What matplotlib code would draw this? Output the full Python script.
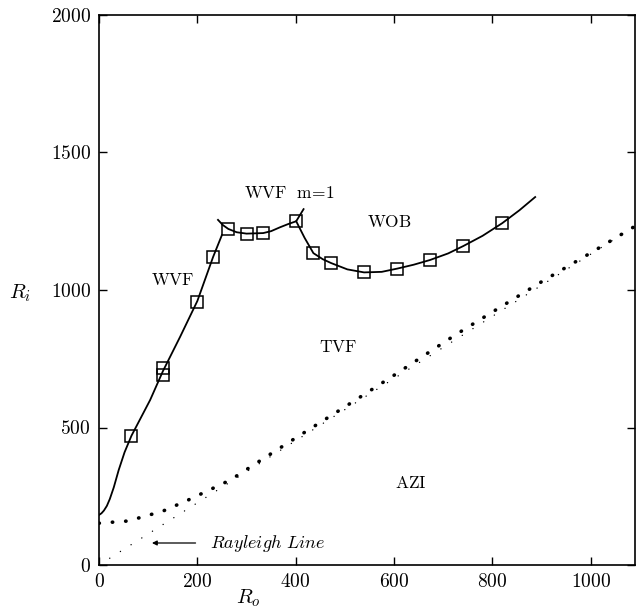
import matplotlib
matplotlib.use("Agg")
import matplotlib.pyplot as plt
from matplotlib.ticker import FixedLocator

plt.rcParams["font.family"] = ["cmr10", "DejaVu Serif"]
plt.rcParams["mathtext.fontset"] = "cm"
plt.rcParams["axes.formatter.use_mathtext"] = True
plt.rcParams["axes.unicode_minus"] = False

# measured points (squares)
pts_ro = [65, 130, 130, 200, 232, 263, 300, 334, 401, 436, 472, 539, 607, 673, 741, 820]
pts_ri = [470, 715, 692, 957, 1120, 1222, 1205, 1207, 1250, 1134, 1098, 1065, 1078, 1109, 1160, 1243]

# WVF boundary (solid)
wvf_ro = [0, 5, 10, 16, 22, 30, 40, 52, 66, 85, 104, 130, 165, 200, 232, 250]
wvf_ri = [182, 188, 198, 215, 240, 282, 345, 410, 470, 535, 600, 705, 830, 960, 1120, 1200]

# WVF m=1 branch (solid)
m1_ro = [242, 252, 263, 280, 300, 334, 350, 368, 385, 401, 416]
m1_ri = [1255, 1236, 1222, 1210, 1205, 1207, 1214, 1228, 1240, 1250, 1294]

# WOB boundary (solid)
wob_ro = [401, 418, 436, 455, 472, 505, 539, 575, 607, 640, 673, 710, 741, 780, 820, 855, 887]
wob_ri = [1250, 1190, 1134, 1112, 1098, 1075, 1064, 1066, 1078, 1092, 1109, 1133, 1160, 1197, 1243, 1290, 1338]

# TVF onset (heavy dots)
tvf_ro = [0, 59, 130, 181, 267, 324, 385, 500, 600, 724, 800, 900, 1000, 1090]
tvf_ri = [152, 160, 196, 236, 309, 375, 445, 575, 690, 836, 920, 1030, 1135, 1232]

# Rayleigh line (light dots)
ray_ro = [0, 1090]
ray_ri = [0, 1232]

fig = plt.figure(figsize=(6.36, 6.11), dpi=100)
ax = fig.add_axes([99 / 636, 46 / 611, 536 / 636, 550 / 611])

ax.plot(ray_ro, ray_ri, color="black", lw=1.0, linestyle=(0, (0.1, 9)),
        dash_capstyle="round")
ax.plot(tvf_ro, tvf_ri, color="black", lw=2.6, linestyle=(0, (0.1, 3.6)),
        dash_capstyle="round")
for xs, ys in [(wvf_ro, wvf_ri), (m1_ro, m1_ri), (wob_ro, wob_ri)]:
    ax.plot(xs, ys, color="black", lw=1.3)
ax.plot(pts_ro, pts_ri, linestyle="none", marker="s", ms=8.5, mfc="none",
        mec="black", mew=1.1)

txt = dict(ha="center", va="center", fontsize=12.5)
ax.text(149, 1036, r"$\mathrm{WVF}$", **txt)
ax.text(387, 1353, r"$\mathrm{WVF\ \ m\!=\!1}$", **txt)
ax.text(590, 1247, r"$\mathrm{WOB}$", **txt)
ax.text(486, 793, r"$\mathrm{TVF}$", **txt)
ax.text(633, 298, r"$\mathrm{AZI}$", **txt)

ax.annotate("", xy=(102, 80), xytext=(202, 80),
            arrowprops=dict(arrowstyle="-|>", color="black", lw=0.9,
                            mutation_scale=7))
ax.text(226, 80, r"$\mathit{Rayleigh\ Line}$", ha="left", va="center",
        fontsize=13)

ax.set_xlim(0, 1090)
ax.set_ylim(0, 2000)
ax.xaxis.set_major_locator(FixedLocator([0, 200, 400, 600, 800, 1000]))
ax.yaxis.set_major_locator(FixedLocator([0, 500, 1000, 1500, 2000]))
ax.tick_params(direction="in", length=6, width=1.0, labelsize=14,
               top=True, right=True, pad=6)
for s in ax.spines.values():
    s.set_linewidth(1.2)

ax.set_ylabel(r"$R_i$", fontsize=15, rotation=0, va="center")
ax.yaxis.set_label_coords(-0.147, 0.495)
ax.set_xlabel(r"$R_o$", fontsize=15)
ax.xaxis.set_label_coords(0.278, -0.04)

fig.savefig("out.png", dpi=100)
